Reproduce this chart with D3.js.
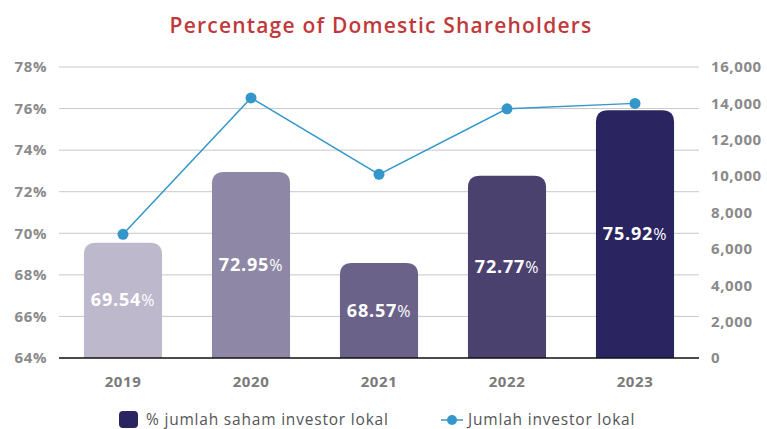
<!DOCTYPE html>
<html>
<head>
<meta charset="utf-8">
<script src="https://cdn.jsdelivr.net/npm/d3@7"></script>
<style>
  body { margin: 0; background: #fff; }
  svg { font-family: "Open Sans", Lato, sans-serif; }
</style>
</head>
<body>
<svg id="chart" width="767" height="429"></svg>
<script>
const years = ["2019", "2020", "2021", "2022", "2023"];
const pctValues = [69.54, 72.95, 68.57, 72.77, 75.92];
const investorValues = [6800, 14300, 10100, 13700, 14000];
const barColors = ["#bdb8cc", "#8e87a6", "#6b6289", "#4a416f", "#2a2460"];
const leftTicks = [64, 66, 68, 70, 72, 74, 76, 78];
const rightTicks = [0, 2000, 4000, 6000, 8000, 10000, 12000, 14000, 16000];

var svg = d3.select("#chart");

var margin = {left: 59, right: 68, top: 67, bottom: 71};
var width = 767 - margin.left - margin.right;
var height = 429 - margin.top - margin.bottom;

var x = d3.scaleBand().domain(years).range([margin.left, margin.left + width]).paddingInner(0.39).paddingOuter(0.195);
var y = d3.scaleLinear().domain([64, 78]).range([margin.top + height, margin.top]);
var y2 = d3.scaleLinear().domain([0, 16000]).range([margin.top + height, margin.top]);

// title
svg.append("text")
    .attr("x", 381).attr("y", 33)
    .attr("text-anchor", "middle")
    .style("font-size", "21px")
    .style("font-weight", 600)
    .style("letter-spacing", "1.2px")
    .style("fill", "#c0393b")
    .text("Percentage of Domestic Shareholders");

// gridlines
svg.append("g").selectAll("line")
    .data(leftTicks.slice(1))
    .enter().append("line")
    .attr("x1", margin.left).attr("x2", margin.left + width)
    .attr("y1", d => y(d)).attr("y2", d => y(d))
    .style("stroke", "#c8c8c8").style("stroke-width", 1);

// left axis
svg.append("g")
    .attr("transform", "translate(" + (margin.left - 12) + ",0)")
    .call(d3.axisLeft(y).tickValues(leftTicks).tickFormat(d => d + "%").tickSize(0).tickPadding(0))
    .call(g => g.select(".domain").remove())
    .selectAll("text")
    .style("font-size", "15px").style("font-weight", 700).style("fill", "#8a8a8a")
    .style("letter-spacing", "0.6px")
    .style("font-family", "'Open Sans', sans-serif");

// right axis
svg.append("g")
    .attr("transform", "translate(" + (margin.left + width + 12) + ",0)")
    .call(d3.axisRight(y2).tickValues(rightTicks).tickFormat(d3.format(",")).tickSize(0).tickPadding(0))
    .call(g => g.select(".domain").remove())
    .selectAll("text")
    .style("font-size", "15px").style("font-weight", 700).style("fill", "#8a8a8a")
    .style("letter-spacing", "0.6px")
    .style("font-family", "'Open Sans', sans-serif");

// bars with rounded top corners
var r = 12;
function barPath(d, i) {
    var x0 = x(years[i]), w = x.bandwidth();
    var yt = y(d), yb = y(64);
    return "M" + x0 + "," + yb +
        "V" + (yt + r) +
        "Q" + x0 + "," + yt + " " + (x0 + r) + "," + yt +
        "H" + (x0 + w - r) +
        "Q" + (x0 + w) + "," + yt + " " + (x0 + w) + "," + (yt + r) +
        "V" + yb + "Z";
}
svg.append("g").selectAll("path")
    .data(pctValues)
    .enter().append("path")
    .attr("d", barPath)
    .style("fill", (d, i) => barColors[i]);

// bar labels
var lbl = svg.append("g").selectAll("text")
    .data(pctValues)
    .enter().append("text")
    .attr("x", (d, i) => x(years[i]) + x.bandwidth() / 2)
    .attr("y", d => (y(d) + y(64)) / 2 + 6)
    .attr("text-anchor", "middle")
    .style("fill", "#fff")
    .style("letter-spacing", "0.8px")
    .style("font-size", "18px");
lbl.append("tspan").style("font-weight", 700).text(d => d.toFixed(2));
lbl.append("tspan").style("font-weight", 400).style("font-size", "16px").text("%");

// baseline
svg.append("line")
    .attr("x1", margin.left).attr("x2", margin.left + width)
    .attr("y1", y(64)).attr("y2", y(64))
    .style("stroke", "#111").style("stroke-width", 1.5);

// year labels
svg.append("g").selectAll("text")
    .data(years)
    .enter().append("text")
    .attr("x", d => x(d) + x.bandwidth() / 2)
    .attr("y", 387)
    .attr("text-anchor", "middle")
    .style("font-size", "15px").style("font-weight", 700).style("fill", "#7a7a7a")
    .style("letter-spacing", "0.6px")
    .text(d => d);

// line series
var line = d3.line()
    .x((d, i) => x(years[i]) + x.bandwidth() / 2)
    .y(d => y2(d));
svg.append("path")
    .datum(investorValues)
    .attr("d", line)
    .style("fill", "none").style("stroke", "#3597c9").style("stroke-width", 1.5);
svg.append("g").selectAll("circle")
    .data(investorValues)
    .enter().append("circle")
    .attr("cx", (d, i) => x(years[i]) + x.bandwidth() / 2)
    .attr("cy", d => y2(d))
    .attr("r", 5.5)
    .style("fill", "#3597c9");

// legend
var leg = svg.append("g");
leg.append("rect")
    .attr("x", 119).attr("y", 411).attr("width", 19).attr("height", 17).attr("rx", 4)
    .style("fill", "#2a2460");
leg.append("text")
    .attr("x", 146).attr("y", 425)
    .style("font-size", "15.5px").style("fill", "#555")
    .style("letter-spacing", "0.8px")
    .text("% jumlah saham investor lokal");
leg.append("line")
    .attr("x1", 441).attr("x2", 463).attr("y1", 420).attr("y2", 420)
    .style("stroke", "#3597c9").style("stroke-width", 1.5);
leg.append("circle")
    .attr("cx", 452).attr("cy", 420).attr("r", 5)
    .style("fill", "#3597c9");
leg.append("text")
    .attr("x", 468).attr("y", 425)
    .style("font-size", "15.5px").style("fill", "#555")
    .style("letter-spacing", "0.8px")
    .text("Jumlah investor lokal");
</script>
</body>
</html>
